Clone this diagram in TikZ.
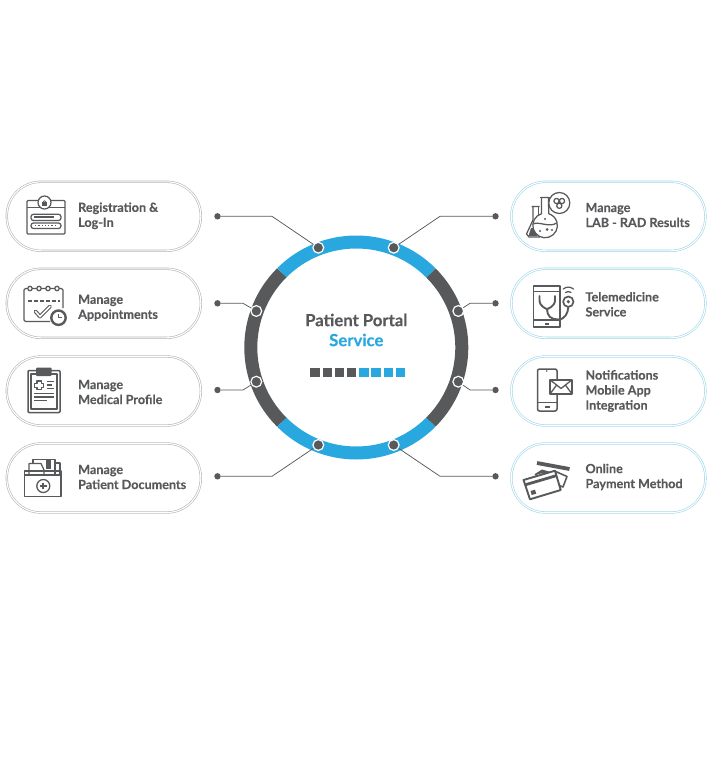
\documentclass[tikz,border=0pt]{standalone}
\usepackage{fontspec}
\setmainfont{Lato}[BoldFeatures={FakeBold=0.25}]
\usepackage{tikz}
\usetikzlibrary{calc}
\definecolor{darkgrey}{HTML}{58595B}
\definecolor{portalblue}{HTML}{29A8DF}
\definecolor{pillgrey}{HTML}{B4B5B7}
\definecolor{pillblue}{HTML}{9FD6EC}
\begin{document}
\begin{tikzpicture}[x=1pt,y=-1pt,
		pillleft/.style={draw=pillgrey,double=white,double distance=1.1pt,line width=.6pt,rounded corners=34pt,minimum width=194pt,minimum height=69pt,inner sep=0pt},
		pillright/.style={pillleft,draw=pillblue},
		label/.style={anchor=west,align=left,inner sep=0pt,text=darkgrey,font=\fontsize{12.6}{15}\selectfont\bfseries},
		enddot/.style={circle,fill=darkgrey,minimum size=6.4pt,inner sep=0pt},
		ringdot/.style={circle,fill=darkgrey,draw=white,line width=1.2pt,minimum size=10.8pt,inner sep=0pt},
		leader/.style={draw=darkgrey,line width=.75pt},
		seg/.style={line width=13pt},
		ico/.style={draw=darkgrey,line width=1.25pt,line join=round},
		icothick/.style={draw=darkgrey,line width=1.9pt,line join=round},
		icofill/.style={fill=darkgrey,draw=none}]
			\useasboundingbox (0,0) rectangle (712,770);
			\coordinate(C) at (356.3,347.5);
			
			% ring
			\draw[seg,portalblue] (C) ++(135:105.5) arc (135:45:105.5);
			\draw[seg,darkgrey] (C) ++(45:105.5) arc (45:-45:105.5);
			\draw[seg,portalblue] (C) ++(-45:105.5) arc (-45:-135:105.5);
			\draw[seg,darkgrey] (C) ++(-135:105.5) arc (-135:-225:105.5);
			
			\node[text=darkgrey,font=\fontsize{16.7}{19}\selectfont\bfseries] (title) at (356.3,320) {Patient Portal};
			\node[text=portalblue,font=\fontsize{16.7}{19}\selectfont\bfseries] (service) at (356.3,340) {Service};
			\foreach \i in {0,...,3} {
				\fill[darkgrey] (310.3+12.2*\i,367.7) rectangle ++(9.5,9.5);
				\fill[portalblue] (359.1+12.2*\i,367.7) rectangle ++(9.5,9.5);
			}
			
			% pills
			\node[pillleft] (pillA) at (103.8,216.3) {};
			\node[pillleft] (pillB) at (103.8,303.3) {};
			\node[pillleft] (pillC) at (103.8,391) {};
			\node[pillleft] (pillD) at (103.8,478) {};
			\node[pillright] (pillE) at (608.4,216.3) {};
			\node[pillright] (pillF) at (608.4,303.3) {};
			\node[pillright] (pillG) at (608.4,391) {};
			\node[pillright] (pillH) at (608.4,478) {};
			
			\node[label] (textA) at (78,215.8) {Registration \&\\Log-In};
			\node[label] (textB) at (78,307.8) {Manage\\Appointments};
			\node[label] (textC) at (78,392) {Manage\\Medical Profile};
			\node[label] (textD) at (78,477) {Manage\\Patient Documents};
			\node[label] (textE) at (585.3,215) {Manage\\LAB - RAD Results};
			\node[label] (textF) at (585.3,304.3) {Telemedicine\\Service};
			\node[label] (textG) at (585.3,391) {Notifications\\Mobile App\\Integration};
			\node[label] (textH) at (585.3,477) {Online\\Payment Method};
			
			% connectors
			\node[enddot] (endA) at (217.5,216.3) {};
			\node[enddot] (endB) at (217.5,303.3) {};
			\node[enddot] (endC) at (217.5,390) {};
			\node[enddot] (endD) at (217.5,476.3) {};
			\node[enddot] (endE) at (495.5,216.3) {};
			\node[enddot] (endF) at (495.5,303.3) {};
			\node[enddot] (endG) at (495.5,390) {};
			\node[enddot] (endH) at (495.5,476.3) {};
			
			\coordinate(kneeA) at (272,216.3);
			\coordinate(kneeB) at (243,303.3);
			\coordinate(kneeC) at (243,390);
			\coordinate(kneeD) at (272,476.3);
			\coordinate(kneeE) at (440,216.3);
			\coordinate(kneeF) at (470,303.3);
			\coordinate(kneeG) at (470,390);
			\coordinate(kneeH) at (440,476.3);
			
			\node[ringdot] (dotA) at (318.3,247.7) {};
			\node[ringdot] (dotB) at (256.3,311) {};
			\node[ringdot] (dotC) at (256.3,381.7) {};
			\node[ringdot] (dotD) at (318.3,445) {};
			\node[ringdot] (dotE) at (393.7,247.7) {};
			\node[ringdot] (dotF) at (458.3,311) {};
			\node[ringdot] (dotG) at (458.3,381.7) {};
			\node[ringdot] (dotH) at (393.7,445) {};
			
			\draw[leader] (endA) -- (kneeA) -- (dotA);
			\draw[leader] (endB) -- (kneeB) -- (dotB);
			\draw[leader] (endC) -- (kneeC) -- (dotC);
			\draw[leader] (endD) -- (kneeD) -- (dotD);
			\draw[leader] (endE) -- (kneeE) -- (dotE);
			\draw[leader] (endF) -- (kneeF) -- (dotF);
			\draw[leader] (endG) -- (kneeG) -- (dotG);
			\draw[leader] (endH) -- (kneeH) -- (dotH);
			
			% registration icon
			\draw[ico,rounded corners=1pt] (27,200.5) rectangle (65,234);
			\draw[ico] (27,207.5) -- (65,207.5);
			\draw[ico,fill=white] (44.5,202.5) circle (6.5);
			\fill[darkgrey] (42,202.2) rectangle (47,206);
			\draw[ico,line width=.8pt] (42.9,202.2) arc (180:360:1.6);
			\draw[ico,rounded corners=2.5pt] (31,214.3) rectangle (61,220.5);
			\draw[icothick] (34,217.4) -- (54,217.4);
			\draw[ico,rounded corners=2.5pt] (31,223) rectangle (61,228.5);
			\draw[ico,dotted] (35,225.8) -- (57,225.8);
			
			% calendar icon
			\draw[ico,rounded corners=1.5pt] (50,321.5) -- (24,321.5) -- (24,288.5) -- (63,288.5) -- (63,308);
			\foreach \x in {30,39,48,57} \draw[ico,fill=white] (\x,288.5) circle (2.2);
			\draw[ico,dash pattern=on 4pt off 2pt,line width=1.4pt] (28,301) -- (60,301);
			\draw[ico,line width=3.8pt,line cap=round] (35.5,311.5) -- (40,316.5) -- (50,306.5);
			\draw[white,line width=1.5pt,line cap=round] (35.5,311.5) -- (40,316.5) -- (50,306.5);
			\draw[icothick,fill=white,line width=2.4pt] (58.5,317.7) circle (7.2);
			\draw[ico] (58.5,314) -- (58.5,317.7) -- (62,317.7);
			
			% clipboard icon
			\draw[icothick,line width=1.5pt,rounded corners=1pt] (28,370.5) rectangle (60,412.5);
			\draw[ico] (31,374) rectangle (57,409);
			\draw[fill=darkgrey,draw=none,rounded corners=1pt] (36,367.5) rectangle (51.7,376);
			\draw[ico] (37,381) -- (41.5,381) -- (41.5,383.2) -- (43.8,383.2) -- (43.8,387.5) -- (41.5,387.5) -- (41.5,389.7) -- (37,389.7) -- (37,387.5) -- (34.7,387.5) -- (34.7,383.2) -- (37,383.2) -- cycle;
			\draw[ico,line width=1.4pt] (46.5,381.5) -- (53.5,381.5) (46.5,385) -- (52,385) (46.5,388.5) -- (53.5,388.5);
			\draw[ico,line width=1.4pt] (34,393.5) -- (53.5,393.5) (34,397) -- (53.5,397) (34,400.5) -- (47,400.5);
			
			% folder icon
			\draw[ico] (29,474) -- (29,463.5) -- (41,463.5) -- (44,470) -- (44,474);
			\draw[ico] (33,463.5) -- (33,459.5) -- (55,459.5) -- (55,474);
			\draw[ico] (55,463) -- (60,463) -- (60,474);
			\draw[icofill] (46,459) rectangle (51,469);
			\draw[ico,line width=1.8pt] (24.5,471) -- (61,471) -- (61,496.5) -- (24.5,496.5) -- cycle;
			\draw[ico] (24.5,475) -- (61,475);
			\draw[ico,line width=1.3pt] (43.3,486) circle (6.5);
			\draw[ico,line width=1.7pt] (40,486) -- (46.6,486) (43.3,482.7) -- (43.3,489.3);
			
			% flask icon
			\draw[ico] (531.5,206.5) -- (539.5,206.5) (533,206.5) -- (533,220) -- (526.5,234) -- (529,237) -- (540,237);
			\draw[ico] (538.5,206.5) -- (538.5,216);
			\fill[darkgrey] (531,228) -- (536,228) -- (537,236) -- (528.5,236) -- cycle;
			\draw[ico,fill=white] (541.5,197.5) -- (541.5,213.7) arc (253:-73:12.3) -- (548.5,197.5) -- cycle;
			\draw[ico] (540,197.5) -- (550,197.5);
			\draw[ico] (533.5,224) .. controls (538,221) and (550,228) .. (556.5,223);
			\fill[darkgrey] (547,229.5) circle (1.5) (540,231) circle (1.1) (552,230) circle (1.1) (545,219) circle (1.1);
			\draw[ico,fill=white] (559.3,203) circle (10.5);
			\draw[ico] (556.5,201) circle (2.6) (562,201) circle (2.6) (559.3,205.8) circle (2.6);
			
			% telemedicine icon
			\draw[icothick] (533.5,286) rectangle (560,327);
			\draw[icothick] (533.5,291.5) -- (560,291.5) (533.5,320) -- (560,320);
			\draw[icofill] (545,322.5) rectangle (548.5,325);
			\draw[icothick,line cap=round] (539.5,296) -- (539.5,300) .. controls (539.5,307) and (547,309) .. (547,309) .. controls (547,309) and (555,307) .. (555,300) -- (555,296);
			\draw[icothick] (547,309) .. controls (547,316) and (551,319.5) .. (558,319.5) .. controls (565,319.5) and (568,313) .. (568.3,307);
			\draw[icothick,fill=white,line width=1.7pt] (568.3,301.7) circle (5.2);
			\fill[darkgrey] (568.3,301.7) circle (1.8);
			\draw[ico,line cap=round] (565.6,292.5) arc (230:310:4.2);
			\draw[ico,line cap=round] (563.2,289) arc (230:310:8);
			
			% notification icon
			\draw[icothick,rounded corners=2pt,line width=1.5pt] (537.5,369) rectangle (557,411);
			\draw[ico] (537.5,402.5) -- (557,402.5);
			\draw[icofill] (545,405.5) rectangle (549.5,407.5);
			\fill[darkgrey] (546.7,371) circle (.9);
			\draw[icothick,fill=white] (550,379.8) rectangle (572,394);
			\draw[ico,line width=1.3pt] (550,379.8) -- (561,388.5) -- (572,379.8) (550,394) -- (557,384.5) (572,394) -- (565,384.5);
			
			% payment icon
			\draw[darkgrey,line width=3.8pt] (537,463) -- (569.5,469);
			\draw[ico,line width=1.6pt] (535,475) -- (543,470.5) (554.5,471) -- (567,476.5) -- (563,487) -- (559,485.5);
			\draw[icofill] (535,474) -- (542,469.5) -- (554,473) -- cycle;
			\draw[icothick,fill=white] (523.5,480) -- (555,470.7) -- (560.7,490) -- (530,499.3) -- cycle;
			\draw[darkgrey,line width=2.8pt] (525.2,484.8) -- (556.8,475.5);
			\fill[darkgrey] (530.5,491) -- (535,489.7) -- (536.2,493.7) -- (531.7,495) -- cycle;
		\end{tikzpicture}
\end{document}
